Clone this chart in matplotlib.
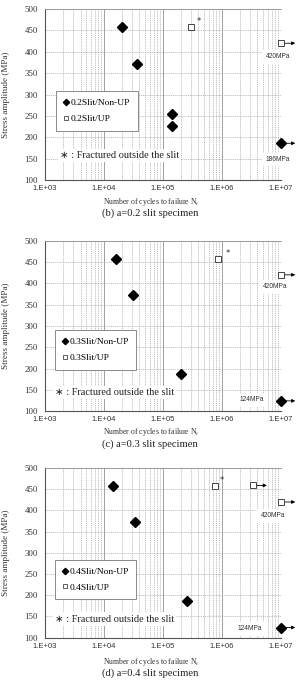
import numpy as np
import matplotlib
matplotlib.use('Agg')
import matplotlib.pyplot as plt
from matplotlib.lines import Line2D
from matplotlib.ticker import FixedLocator, LogLocator, NullFormatter

# values (cycles, MPa)
slits = ['0.2', '0.3', '0.4']
captions = ['(b) a=0.2 slit specimen', '(c) a=0.3 slit specimen', '(d) a=0.4 slit specimen']

nonup_n = [[2.0e4, 3.7e4, 1.42e5, 1.42e5], [1.6e4, 3.1e4, 2.0e5], [1.4e4, 3.3e4, 2.6e5]]
nonup_s = [[457, 372, 255, 226], [457, 372, 186], [457, 372, 186]]
up_n = [[2.95e5], [8.7e5], [7.7e5]]
up_s = [[457], [457], [457]]
star_n = [4.1e5, 1.25e6, 1.0e6]
star_s = [471, 470, 470]

# runouts (did not fail)
runout_nonup_n = [[1.0e7], [1.0e7], [1.0e7]]
runout_nonup_s = [[186], [124], [124]]
runout_up_n = [[1.0e7], [1.0e7], [3.3e6, 1.0e7]]
runout_up_s = [[420], [420], [459, 420]]

limit_up = [420, 420, 420]
limit_nonup = [186, 124, 124]

yticks = [100, 150, 200, 250, 300, 350, 400, 450, 500]
xticks = [1e3, 1e4, 1e5, 1e6, 1e7]
xticklabels = ['1.E+03', '1.E+04', '1.E+05', '1.E+06', '1.E+07']

serif = 'Liberation Serif'
sans = 'Liberation Sans'

fig = plt.figure(figsize=(2.96, 6.84), dpi=100)

boxes = [[0.152, 0.7368, 0.797, 0.250],
         [0.152, 0.3990, 0.797, 0.249],
         [0.152, 0.0677, 0.797, 0.248]]
legend_top = [0.52, 0.475, 0.46]
legend_left = [0.047, 0.042, 0.042]
note_pos = [(0.064, 0.145), (0.042, 0.11), (0.042, 0.11)]
up_lab = [(0.987, 388), (0.975, 392), (0.966, 387)]
nonup_lab = [(0.987, 148), (0.877, 127), (0.869, 121)]
xlab_y = [-0.127, -0.123, -0.141]
cap_y = [-0.193, -0.194, -0.208]

major_c = '#909090'
minor_c = '#a8a8a8'

for i in range(3):
    ax = fig.add_axes(boxes[i])
    ax.set_xscale('log')
    ax.set_xlim(1e3, 1e7)
    ax.set_ylim(100, 500)

    ax.xaxis.set_major_locator(FixedLocator(xticks))
    ax.set_xticks(xticks)
    ax.set_xticklabels(xticklabels, fontfamily=sans, fontsize=5.5)
    ax.xaxis.set_minor_locator(LogLocator(base=10, subs=np.arange(2, 10)))
    ax.xaxis.set_minor_formatter(NullFormatter())
    ax.set_yticks(yticks)
    ax.set_yticklabels([str(v) for v in yticks], fontfamily=serif, fontsize=6.3)
    ax.tick_params(which='both', length=0, pad=3.5, colors='#333333')
    ax.tick_params(axis='y', pad=5)

    ax.grid(which='major', axis='x', color=major_c, lw=0.6, ls='-')
    ax.grid(which='minor', axis='x', color=minor_c, lw=0.5, ls=(0, (1.5, 1.2)))
    ax.grid(which='major', axis='y', color=minor_c, lw=0.5, ls=(0, (1.5, 1.2)))
    ax.set_axisbelow(True)

    ax.spines['right'].set_visible(False)
    ax.spines['top'].set_color(major_c)
    ax.spines['top'].set_linewidth(0.6)
    ax.spines['left'].set_color('#555555')
    ax.spines['bottom'].set_color('#555555')
    ax.spines['left'].set_linewidth(0.8)
    ax.spines['bottom'].set_linewidth(0.8)

    ax.plot(nonup_n[i], nonup_s[i], 'D', color='black', ms=5, zorder=5, clip_on=False)
    ax.plot(runout_nonup_n[i], runout_nonup_s[i], 'D', color='black', ms=5, zorder=5, clip_on=False)
    ax.plot(up_n[i], up_s[i], 's', mfc='white', mec='#444444', mew=0.7, ms=4.5, zorder=5, clip_on=False)
    ax.plot(runout_up_n[i], runout_up_s[i], 's', mfc='white', mec='#444444', mew=0.7, ms=4.5, zorder=5, clip_on=False)
    ax.text(star_n[i], star_s[i], '*', fontsize=6, ha='center', va='center', color='#333333')

    for n, s in list(zip(runout_nonup_n[i], runout_nonup_s[i])) + list(zip(runout_up_n[i], runout_up_s[i])):
        ax.annotate('', xy=(n * 1.75, s), xytext=(n, s), annotation_clip=False,
                    arrowprops=dict(arrowstyle='-|>', lw=0.6, color='black',
                                    shrinkA=3, shrinkB=0, mutation_scale=5))

    tr = ax.get_yaxis_transform()
    ax.text(up_lab[i][0], up_lab[i][1], '%dMPa' % limit_up[i], transform=tr, fontfamily=sans,
            fontsize=4.8, ha='center', va='center', color='#333333',
            bbox=dict(facecolor='white', edgecolor='none', pad=2.5), zorder=4)
    ax.text(nonup_lab[i][0], nonup_lab[i][1], '%dMPa' % limit_nonup[i], transform=tr, fontfamily=sans,
            fontsize=4.8, ha='center', va='center', color='#333333',
            bbox=dict(facecolor='white', edgecolor='none', pad=2.5), zorder=4)

    ax.text(note_pos[i][0], note_pos[i][1], '\u2217 : Fractured outside the slit', transform=ax.transAxes,
            fontfamily=[serif, 'DejaVu Sans'], fontsize=7.4, ha='left', va='center', color='#222222',
            bbox=dict(facecolor='white', edgecolor='none', pad=1.5), zorder=4)

    handles = [Line2D([], [], marker='D', color='black', ls='none', ms=3.2),
               Line2D([], [], marker='s', mfc='white', mec='#444444', mew=0.6, ls='none', ms=3.5)]
    leg = ax.legend(handles, [slits[i] + 'Slit/Non-UP', slits[i] + 'Slit/UP'],
                    loc='upper left', bbox_to_anchor=(legend_left[i], legend_top[i]),
                    prop={'family': serif, 'size': 6.8}, frameon=True, fancybox=False,
                    edgecolor='#777777', framealpha=1, borderpad=0.8, labelspacing=0.75,
                    handlelength=0.6, handletextpad=0.15, borderaxespad=0)
    leg.get_frame().set_linewidth(0.6)
    leg.set_zorder(6)

    ax.set_ylabel('Stress amplitude (MPa)', fontfamily=serif, fontsize=6.6, color='#333333')
    ax.yaxis.set_label_coords(-0.148, 0.5)
    ax.text(0.45, xlab_y[i], 'Number of cycles to failure N$_\\mathregular{f}$', transform=ax.transAxes,
            fontfamily=serif, fontsize=5.6, ha='center', va='center', color='#333333')
    ax.text(0.445, cap_y[i], captions[i], transform=ax.transAxes,
            fontfamily=serif, fontsize=7.6, ha='center', va='center', color='#222222')

fig.savefig('out.png', dpi=100)
